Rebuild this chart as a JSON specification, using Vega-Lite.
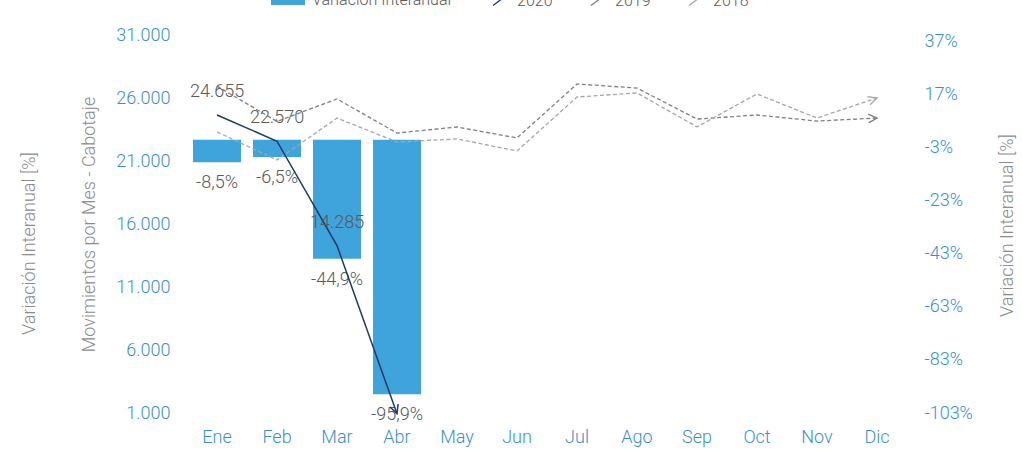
{
  "$schema": "https://vega.github.io/schema/vega-lite/v6.json",
  "width": 720,
  "height": 378,
  "autosize": "none",
  "padding": {"left": 187, "top": 35, "right": 115, "bottom": 37},
  "background": "white",
  "config": {
    "locale": {"number": {"decimal": ",", "thousands": ".", "grouping": [3], "currency": ["$", ""], "minus": "-"}},
    "font": "Roboto",
    "view": {"stroke": null},
    "axis": {
      "grid": false, "domain": false, "ticks": false, "tickSize": 0,
      "labelFont": "Roboto", "labelFontWeight": 300, "labelFontSize": 18, "labelColor": "#3A8FCF",
      "titleFont": "Roboto", "titleFontWeight": 300, "titleFontSize": 18, "titleColor": "#8C8C8C"
    },
    "legend": {"labelFont": "Roboto", "labelFontWeight": 300, "labelFontSize": 16, "labelColor": "#595959", "padding": 0}
  },
  "datasets": {
    "var": [
      {"mes": "Ene", "serie": "Variación Interanual", "pct": -0.085},
      {"mes": "Feb", "serie": "Variación Interanual", "pct": -0.065},
      {"mes": "Mar", "serie": "Variación Interanual", "pct": -0.449},
      {"mes": "Abr", "serie": "Variación Interanual", "pct": -0.959}
    ],
    "mov": [
      {"mes": "Ene", "serie": "2020", "valor": 24655},
      {"mes": "Feb", "serie": "2020", "valor": 22570},
      {"mes": "Mar", "serie": "2020", "valor": 14285},
      {"mes": "Abr", "serie": "2020", "valor": 950},
      {"mes": "Ene", "serie": "2019", "valor": 26945},
      {"mes": "Feb", "serie": "2019", "valor": 24139},
      {"mes": "Mar", "serie": "2019", "valor": 25926},
      {"mes": "Abr", "serie": "2019", "valor": 23220},
      {"mes": "May", "serie": "2019", "valor": 23700},
      {"mes": "Jun", "serie": "2019", "valor": 22830},
      {"mes": "Jul", "serie": "2019", "valor": 27110},
      {"mes": "Ago", "serie": "2019", "valor": 26790},
      {"mes": "Sep", "serie": "2019", "valor": 24330},
      {"mes": "Oct", "serie": "2019", "valor": 24650},
      {"mes": "Nov", "serie": "2019", "valor": 24170},
      {"mes": "Dic", "serie": "2019", "valor": 24410},
      {"mes": "Ene", "serie": "2018", "valor": 23300},
      {"mes": "Feb", "serie": "2018", "valor": 21080},
      {"mes": "Mar", "serie": "2018", "valor": 24410},
      {"mes": "Abr", "serie": "2018", "valor": 22510},
      {"mes": "May", "serie": "2018", "valor": 22750},
      {"mes": "Jun", "serie": "2018", "valor": 21800},
      {"mes": "Jul", "serie": "2018", "valor": 26080},
      {"mes": "Ago", "serie": "2018", "valor": 26400},
      {"mes": "Sep", "serie": "2018", "valor": 23710},
      {"mes": "Oct", "serie": "2018", "valor": 26320},
      {"mes": "Nov", "serie": "2018", "valor": 24410},
      {"mes": "Dic", "serie": "2018", "valor": 26000}
    ]
  },
  "layer": [
    {
      "data": {"name": "var"},
      "encoding": {
        "x": {
          "field": "mes", "type": "nominal",
          "scale": {"domain": ["Ene", "Feb", "Mar", "Abr", "May", "Jun", "Jul", "Ago", "Sep", "Oct", "Nov", "Dic"], "paddingInner": 0.2, "paddingOuter": 0.1},
          "axis": {"labelAngle": 0, "title": null, "labelPadding": 15}
        },
        "y": {
          "field": "pct", "type": "quantitative",
          "scale": {"domain": [-1.03, 0.3945], "nice": false, "zero": false},
          "axis": {
            "orient": "right", "values": [-1.03, -0.83, -0.63, -0.43, -0.23, -0.03, 0.17, 0.37],
            "format": ".0%", "labelPadding": 17,
            "title": "Variación Interanual [%]", "titleAngle": -90, "titleX": 105, "titleY": 190,
            "titleBaseline": "alphabetic", "titleAlign": "center"
          }
        }
      },
      "layer": [
        {
          "mark": {"type": "bar"},
          "encoding": {
            "fill": {
              "field": "serie", "type": "nominal",
              "scale": {"domain": ["Variación Interanual"], "range": ["#3FA4DB"]},
              "legend": {
                "orient": "none", "legendX": 84, "legendY": -52, "direction": "horizontal", "title": null,
                "symbolType": "M-1,-0.3H1V0.3H-1Z", "symbolSize": 1156, "symbolStrokeWidth": 0, "labelOffset": 7
              }
            }
          }
        },
        {
          "mark": {"type": "text", "baseline": "middle", "dy": 21, "fontSize": 18, "fontWeight": 300, "font": "Roboto", "color": "#595959"},
          "encoding": {"text": {"field": "pct", "type": "quantitative", "format": ".1%"}}
        }
      ]
    },
    {
      "data": {"name": "mov"},
      "encoding": {
        "x": {"field": "mes", "type": "nominal"},
        "y": {
          "field": "valor", "type": "quantitative",
          "scale": {"domain": [1000, 31000], "nice": false, "zero": false},
          "axis": {
            "orient": "left", "values": [1000, 6000, 11000, 16000, 21000, 26000, 31000],
            "format": ",d", "labelPadding": 17,
            "title": "Movimientos por Mes - Cabotaje", "titleAngle": -90, "titleX": -93, "titleY": 189,
            "titleBaseline": "alphabetic", "titleAlign": "center"
          }
        },
        "stroke": {
          "field": "serie", "type": "nominal",
          "scale": {"domain": ["2020", "2019", "2018"], "range": ["#1F3864", "#7F7F7F", "#A6A6A6"]},
          "legend": {
            "orient": "none", "legendX": 301, "legendY": -45, "direction": "horizontal", "title": null,
            "symbolType": "M-0.6,0.45L0.6,-0.45", "symbolSize": 400, "symbolStrokeWidth": 1.3, "symbolFillColor": "transparent",
            "labelOffset": 7, "columnPadding": 33
          }
        }
      },
      "layer": [
        {
          "transform": [{"filter": "datum.serie !== '2020'"}],
          "mark": {"type": "line", "strokeWidth": 1.3, "strokeDash": [4, 2.5]}
        },
        {
          "transform": [{"filter": "datum.serie === '2020'"}],
          "mark": {"type": "line", "strokeWidth": 1.5}
        },
        {
          "transform": [{"filter": "datum.serie === '2020' && datum.mes === 'Abr'"}],
          "mark": {"type": "point", "shape": "M-1,-0.5L0,0L-1,0.5", "filled": false, "size": 300, "strokeWidth": 1.5, "angle": 70, "opacity": 1}
        },
        {
          "transform": [{"filter": "datum.serie === '2019' && datum.mes === 'Dic'"}],
          "mark": {"type": "point", "shape": "M-1,-0.5L0,0L-1,0.5", "filled": false, "size": 300, "strokeWidth": 1.3, "angle": -3, "opacity": 1}
        },
        {
          "transform": [{"filter": "datum.serie === '2018' && datum.mes === 'Dic'"}],
          "mark": {"type": "point", "shape": "M-1,-0.5L0,0L-1,0.5", "filled": false, "size": 300, "strokeWidth": 1.3, "angle": -18, "opacity": 1}
        },
        {
          "transform": [{"filter": "datum.serie === '2020' && datum.mes !== 'Abr'"}],
          "mark": {"type": "text", "baseline": "middle", "dy": -23, "fontSize": 18, "fontWeight": 300, "font": "Roboto", "fill": "#595959", "stroke": null},
          "encoding": {"text": {"field": "valor", "type": "quantitative", "format": ",d"}, "stroke": {"value": null}}
        }
      ]
    },
    {
      "data": {"name": "var"},
      "mark": {"type": "point", "opacity": 0},
      "encoding": {
        "x": {"field": "mes", "type": "nominal"},
        "y": {
          "field": "pct", "type": "quantitative",
          "scale": {"domain": [-1.03, 0.3945], "nice": false, "zero": false},
          "axis": {
            "orient": "left", "labels": false,
            "title": "Variación Interanual [%]", "titleAngle": -90, "titleX": -153, "titleY": 208,
            "titleBaseline": "alphabetic", "titleAlign": "center"
          }
        }
      }
    }
  ],
  "resolve": {"scale": {"y": "independent"}}
}
